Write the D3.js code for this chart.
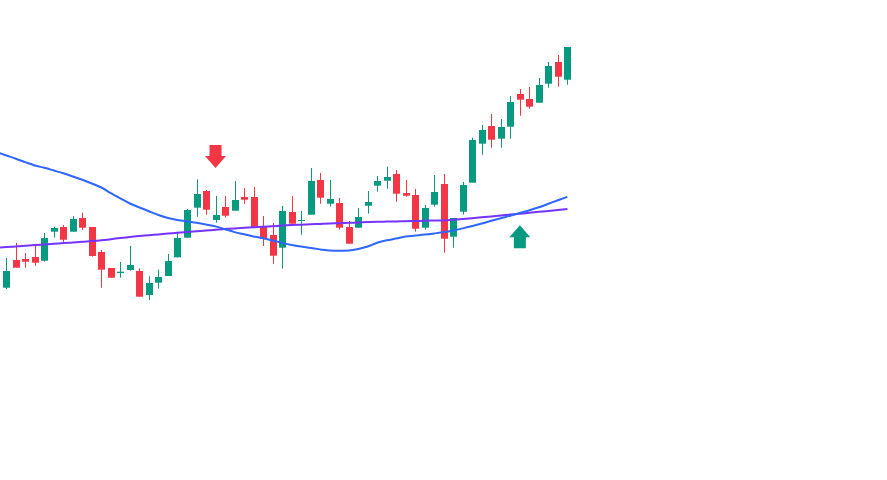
<!DOCTYPE html>
<html><head><meta charset="utf-8">
<script src="https://cdn.jsdelivr.net/npm/d3@7"></script>
<style>html,body{margin:0;padding:0;background:#fff;}svg{display:block;}</style>
</head><body>
<svg id="chart" width="887" height="480"></svg>
<script>
// Candles: open, high, low, close
const opens  = [101.23,104.0,104.1,104.3,103.93,106.83,107.3,106.83,108.2,107.3,104.8,103.2,102.7,103.0,102.9,100.5,101.73,102.4,104.27,106.23,109.23,110.9,108.0,109.3,108.93,110.3,110.3,107.3,106.5,105.23,108.8,107.9,108.53,112.0,109.63,109.7,107.3,107.23,109.43,111.43,111.93,112.6,110.7,110.5,107.23,109.53,111.6,106.33,108.83,111.73,115.63,117.4,116.13,117.33,120.6,120.1,119.73,121.63,123.8,122.03];
const highs  = [104.2,105.73,104.7,105.6,106.7,107.33,107.5,108.4,108.73,107.3,105.0,103.2,103.8,105.4,103.17,102.37,103.03,104.6,106.83,109.1,112.07,111.0,110.4,110.4,111.9,111.2,111.3,108.4,107.7,109.4,110.4,108.9,113.2,112.7,112.0,110.2,107.9,109.2,110.9,112.4,113.33,113.0,112.0,111.1,109.5,112.5,112.6,108.2,111.8,116.23,117.5,118.6,118.1,120.4,121.1,121.3,122.2,123.8,124.5,125.3];
const lows   = [101.1,103.23,103.23,103.43,103.83,106.23,105.67,106.83,107.0,104.33,101.23,102.23,102.23,102.93,100.33,100.0,101.13,102.4,104.27,106.23,108.33,108.53,107.73,108.23,108.93,109.6,107.3,105.4,103.63,103.13,107.63,106.53,108.53,109.63,109.33,107.03,105.63,107.23,108.63,110.83,111.13,109.83,110.33,106.83,107.03,109.33,104.73,105.23,108.53,111.73,114.53,115.23,115.23,116.13,118.43,119.13,119.73,121.23,121.33,121.53];
const closes = [102.9,103.23,103.83,103.73,106.2,107.2,106.03,108.1,107.23,104.4,103.03,102.23,102.83,103.5,100.33,101.7,102.3,103.9,106.2,109.0,110.6,109.03,108.5,108.43,110.0,110.03,107.3,106.1,104.43,108.9,107.63,108.0,111.9,110.23,110.1,107.23,105.63,108.3,109.8,111.9,112.3,110.63,110.43,107.13,109.2,110.8,106.13,108.2,111.5,116.0,117.0,116.03,117.3,119.8,120.03,119.33,121.5,123.4,122.33,125.3];

// Moving averages, index -1 .. 59
const maFast = [114.78,114.45,114.13,113.79,113.45,113.22,112.95,112.67,112.35,112.02,111.65,111.25,110.68,110.16,109.65,109.25,108.87,108.5,108.2,108.01,107.86,107.72,107.55,107.36,107.08,106.79,106.57,106.36,106.17,105.95,105.71,105.51,105.34,105.19,105.06,104.94,104.92,104.95,105.1,105.35,105.72,105.97,106.15,106.34,106.44,106.54,106.66,106.79,106.96,107.16,107.4,107.65,107.92,108.18,108.43,108.71,108.98,109.27,109.62,109.97,110.31];
const maSlow = [105.23,105.29,105.36,105.43,105.49,105.56,105.63,105.69,105.76,105.83,105.89,105.97,106.08,106.2,106.31,106.4,106.48,106.56,106.64,106.72,106.8,106.87,106.94,107.02,107.09,107.16,107.22,107.27,107.33,107.38,107.44,107.49,107.53,107.57,107.61,107.65,107.68,107.72,107.75,107.79,107.82,107.84,107.86,107.88,107.9,107.92,107.94,107.96,108.02,108.1,108.18,108.27,108.36,108.45,108.54,108.63,108.72,108.82,108.91,109.0,109.09];

// Signals
const signalIndex = [22, 54];
const signalType  = ["sell", "buy"];
const signalPrice = [113.2, 107.47];

const svg = d3.select("#chart");
const W = 887, H = 480;
const x = d3.scaleLinear().domain([0, 59]).range([6.3, 567.4]);
const y = d3.scaleLinear().domain([100, 125]).range([300, 50]);
const up = "#089981", down = "#F23645";
const bodyW = 7;

svg.append("defs").append("clipPath").attr("id","clip")
  .append("rect").attr("x",0).attr("y",0).attr("width",W).attr("height",H);
const g = svg.append("g").attr("clip-path","url(#clip)");

const candles = opens.map((o,i)=>({i, o, h:highs[i], l:lows[i], c:closes[i]}));

// Lines
const lineGen = d3.line().x(d=>x(d.i)).y(d=>y(d.v)).curve(d3.curveMonotoneX);
const fast = maFast.map((v,k)=>({i:k-1, v}));
const slow = maSlow.map((v,k)=>({i:k-1, v}));

// candles
const cg = g.append("g");
candles.forEach(d=>{
  const col = d.c >= d.o ? up : down;
  const cx = Math.round(x(d.i));
  cg.append("line").attr("x1",cx+0.5).attr("x2",cx+0.5)
    .attr("y1",y(d.h)).attr("y2",y(d.l)).attr("stroke",col).attr("stroke-width",1);
  const top = y(Math.max(d.o,d.c)), bot = y(Math.min(d.o,d.c));
  cg.append("rect").attr("x",cx+0.5-bodyW/2).attr("y",top)
    .attr("width",bodyW).attr("height",Math.max(1,bot-top)).attr("fill",col);
});

g.append("path").datum(slow).attr("d",lineGen).attr("fill","none")
  .attr("stroke","#7433FF").attr("stroke-width",2);
g.append("path").datum(fast).attr("d",lineGen).attr("fill","none")
  .attr("stroke","#2E66FF").attr("stroke-width",2);

// arrows
signalIndex.forEach((si,k)=>{
  const cx = x(si), ty = y(signalPrice[k]);
  const hw = 10.5, hh = 12, sw = 6, sh = 11;
  let pts;
  if (signalType[k] === "sell") {
    pts = [[cx,ty],[cx-hw,ty-hh],[cx-sw,ty-hh],[cx-sw,ty-hh-sh],[cx+sw,ty-hh-sh],[cx+sw,ty-hh],[cx+hw,ty-hh]];
  } else {
    pts = [[cx,ty],[cx-hw,ty+hh],[cx-sw,ty+hh],[cx-sw,ty+hh+sh],[cx+sw,ty+hh+sh],[cx+sw,ty+hh],[cx+hw,ty+hh]];
  }
  g.append("path").attr("d","M"+pts.map(p=>p.join(",")).join("L")+"Z")
    .attr("fill", signalType[k]==="sell" ? down : up);
});
</script>
</body></html>
